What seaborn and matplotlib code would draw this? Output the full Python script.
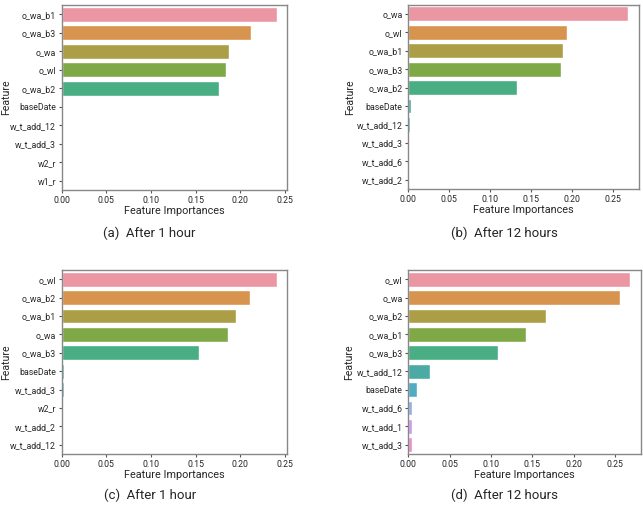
import seaborn as sns
import matplotlib.pyplot as plt
import pandas as pd

# (a) After 1 hour
feat_a = ['o_wa_b1', 'o_wa_b3', 'o_wa', 'o_wl', 'o_wa_b2', 'baseDate',
          'w_t_add_12', 'w_t_add_3', 'w2_r', 'w1_r']
imp_a = [0.2407, 0.212, 0.187, 0.1836, 0.1758, 0.001, 0.0003, 0.0002, 0.0001, 0.0001]

# (b) After 12 hours
feat_b = ['o_wa', 'o_wl', 'o_wa_b1', 'o_wa_b3', 'o_wa_b2', 'baseDate',
          'w_t_add_12', 'w_t_add_3', 'w_t_add_6', 'w_t_add_2']
imp_b = [0.2687, 0.1943, 0.1887, 0.1862, 0.1328, 0.0036, 0.002, 0.0005, 0.0004, 0.0002]

# (c) After 1 hour
feat_c = ['o_wl', 'o_wa_b2', 'o_wa_b1', 'o_wa', 'o_wa_b3', 'baseDate',
          'w_t_add_3', 'w2_r', 'w_t_add_2', 'w_t_add_12']
imp_c = [0.2407, 0.2104, 0.1955, 0.1866, 0.1541, 0.003, 0.002, 0.001, 0.0007, 0.0005]

# (d) After 12 hours
feat_d = ['o_wl', 'o_wa', 'o_wa_b2', 'o_wa_b1', 'o_wa_b3', 'w_t_add_12',
          'baseDate', 'w_t_add_6', 'w_t_add_1', 'w_t_add_3']
imp_d = [0.2673, 0.2552, 0.1661, 0.1427, 0.1089, 0.0258, 0.0109, 0.0048, 0.004, 0.004]

captions = ['(a)  After 1 hour', '(b)  After 12 hours',
            '(c)  After 1 hour', '(d)  After 12 hours']

sns.set_style('white')
plt.rcParams['font.family'] = ['Roboto', 'DejaVu Sans']

fig = plt.figure(figsize=(6.43, 5.07), dpi=100)
rects = [[0.096, 0.625, 0.351, 0.365],
         [0.635, 0.627, 0.359, 0.364],
         [0.096, 0.1045, 0.351, 0.363],
         [0.635, 0.1045, 0.3614, 0.363]]
panels = [(feat_a, imp_a), (feat_b, imp_b), (feat_c, imp_c), (feat_d, imp_d)]
cap_pos = [(0.232, 0.540), (0.785, 0.540), (0.233, 0.024), (0.785, 0.024)]
ylab_x = [-0.224, -0.232, -0.224, -0.232]
pal = sns.husl_palette(10, l=0.7, s=0.9)

for rect, (feat, imp), cap, pos, lx in zip(rects, panels, captions, cap_pos, ylab_x):
    ax = fig.add_axes(rect)
    df = pd.DataFrame({'Feature': feat, 'Feature Importances': imp})
    sns.barplot(data=df, x='Feature Importances', y='Feature', hue='Feature',
                palette=pal, legend=False, ax=ax)
    ax.tick_params(axis='both', labelsize=6.3, length=2.5, pad=1.5,
                   left=True, bottom=True, color='#555555')
    ax.set_xlabel('Feature Importances', fontsize=7.8, labelpad=1)
    ax.set_ylabel('Feature', fontsize=7.6)
    ax.yaxis.set_label_coords(lx, 0.5)
    for s in ax.spines.values():
        s.set_color('#888888')
        s.set_linewidth(1.0)
    fig.text(pos[0], pos[1], cap, ha='center', va='center', fontsize=9.5)

fig.savefig('out.png', dpi=100)
